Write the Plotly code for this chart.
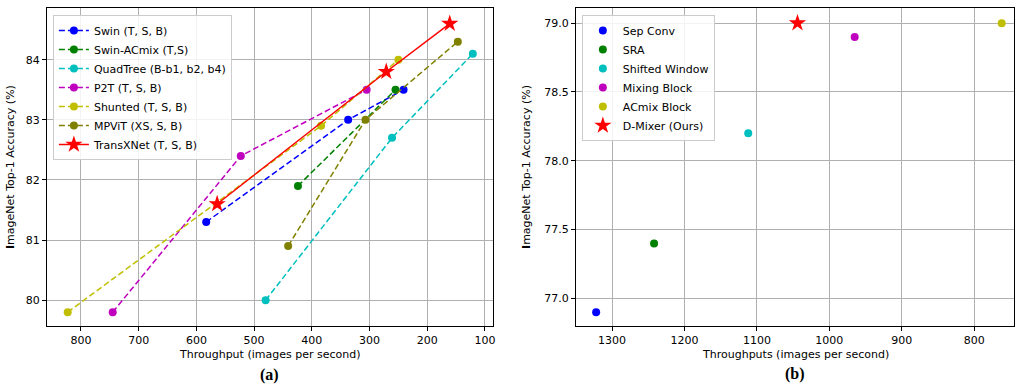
import plotly.graph_objects as go

# ---- data: panel (a) ----
swin_x = [583, 337, 241]
swin_y = [81.3, 83.0, 83.5]
acmix_x = [424, 255]
acmix_y = [81.9, 83.5]
quad_x = [480, 261, 121]
quad_y = [80.0, 82.7, 84.1]
p2t_x = [745, 523, 305]
p2t_y = [79.8, 82.4, 83.5]
shunted_x = [823, 384, 250]
shunted_y = [79.8, 82.9, 84.0]
mpvit_x = [441, 307, 147]
mpvit_y = [80.9, 83.0, 84.3]
transx_x = [564, 271, 161]
transx_y = [81.6, 83.8, 84.6]

# ---- data: panel (b) ----
b_names = ["Sep Conv", "SRA", "Shifted Window", "Mixing Block", "ACmix Block"]
b_x = [1322, 1242, 1112, 965, 762]
b_y = [76.9, 77.4, 78.2, 78.9, 79.0]
dmixer_x = [1044]
dmixer_y = [79.0]

a_xticks = [800, 700, 600, 500, 400, 300, 200, 100]
a_yticks = [80, 81, 82, 83, 84]
b_xticks = [1300, 1200, 1100, 1000, 900, 800]
b_yticks = [77.0, 77.5, 78.0, 78.5, 79.0]

FONT = "DejaVu Sans"
DASH = "6px,3px"

fig = go.Figure()

series_a = [
    ("Swin (T, S, B)", swin_x, swin_y, "#0000ff"),
    ("Swin-ACmix (T,S)", acmix_x, acmix_y, "#008000"),
    ("QuadTree (B-b1, b2, b4)", quad_x, quad_y, "#00bfbf"),
    ("P2T (T, S, B)", p2t_x, p2t_y, "#bf00bf"),
    ("Shunted (T, S, B)", shunted_x, shunted_y, "#bfbf00"),
    ("MPViT (XS, S, B)", mpvit_x, mpvit_y, "#808000"),
]
for name, xs, ys, c in series_a:
    fig.add_trace(go.Scatter(
        x=xs, y=ys, name=name, mode="lines+markers",
        line=dict(color=c, width=1.5, dash=DASH),
        marker=dict(color=c, size=8, symbol="circle"),
        xaxis="x", yaxis="y", legend="legend"))
fig.add_trace(go.Scatter(
    x=transx_x, y=transx_y, name="TransXNet (T, S, B)", mode="lines+markers",
    line=dict(color="#ff0000", width=1.5),
    marker=dict(color="#ff0000", size=13, symbol="star"),
    xaxis="x", yaxis="y", legend="legend"))

colors_b = ["#0000ff", "#008000", "#00bfbf", "#bf00bf", "#bfbf00"]
for n, xv, yv, c in zip(b_names, b_x, b_y, colors_b):
    fig.add_trace(go.Scatter(
        x=[xv], y=[yv], name=n, mode="markers",
        marker=dict(color=c, size=8, symbol="circle"),
        xaxis="x2", yaxis="y2", legend="legend2"))
fig.add_trace(go.Scatter(
    x=dmixer_x, y=dmixer_y, name="D-Mixer (Ours)", mode="markers",
    marker=dict(color="#ff0000", size=13, symbol="star"),
    xaxis="x2", yaxis="y2", legend="legend2"))

W, H = 1016, 387
MT, MB = 8, 61
PH = H - MT - MB

def px(x):
    return x / W

def py(y):
    return (H - MB - y) / PH

axis_common = dict(
    showgrid=True, gridcolor="#b0b0b0", gridwidth=1,
    showline=True, linecolor="black", linewidth=1, mirror=True,
    ticks="outside", ticklen=4, tickcolor="black",
    tickfont=dict(family=FONT, size=11, color="black"),
    zeroline=False,
)

fig.update_layout(
    width=W, height=H,
    margin=dict(l=0, r=0, t=MT, b=MB),
    paper_bgcolor="white", plot_bgcolor="white",
    font=dict(family=FONT, size=11, color="black"),
    xaxis=dict(domain=[px(47), px(494)], range=[859, 86],
               tickvals=a_xticks, anchor="y", **axis_common),
    yaxis=dict(domain=[0, 1], range=[79.57, 84.86],
               tickvals=a_yticks, anchor="x", **axis_common),
    xaxis2=dict(domain=[px(577), 1.0], range=[1350, 745],
                tickvals=b_xticks, anchor="y2", **axis_common),
    yaxis2=dict(domain=[0, 1], range=[76.80, 79.11],
                tickvals=b_yticks, tickformat=".1f", anchor="x2", **axis_common),
    legend=dict(x=px(53), y=py(15), xanchor="left", yanchor="top",
                bgcolor="rgba(255,255,255,0.85)", bordercolor="#cccccc", borderwidth=1,
                font=dict(family=FONT, size=11), tracegroupgap=0),
    legend2=dict(x=px(583), y=py(15), xanchor="left", yanchor="top",
                 bgcolor="rgba(255,255,255,0.85)", bordercolor="#cccccc", borderwidth=1,
                 font=dict(family=FONT, size=11), tracegroupgap=0),
    showlegend=True,
)

annots = [
    dict(text="Throughput (images per second)", x=px(270), y=py(354)),
    dict(text="Throughputs (images per second)", x=px(797), y=py(354)),
    dict(text="<b>(a)</b>", x=px(270), y=py(375),
         font=dict(family="Liberation Serif", size=16, color="black")),
    dict(text="<b>(b)</b>", x=px(797), y=py(374),
         font=dict(family="Liberation Serif", size=16, color="black")),
    dict(text="<b>I</b>mageNet Top-1 Accuracy (%)", x=px(10), y=py(167), textangle=-90),
    dict(text="<b>I</b>mageNet Top-1 Accuracy (%)", x=px(527), y=py(167), textangle=-90),
]
for a in annots:
    a.setdefault("font", dict(family=FONT, size=11, color="black"))
    fig.add_annotation(xref="paper", yref="paper", showarrow=False,
                       xanchor="center", yanchor="middle", **a)

fig.write_html("out.html", config={"displayModeBar": False},
               post_script="document.body.style.margin='0';")
